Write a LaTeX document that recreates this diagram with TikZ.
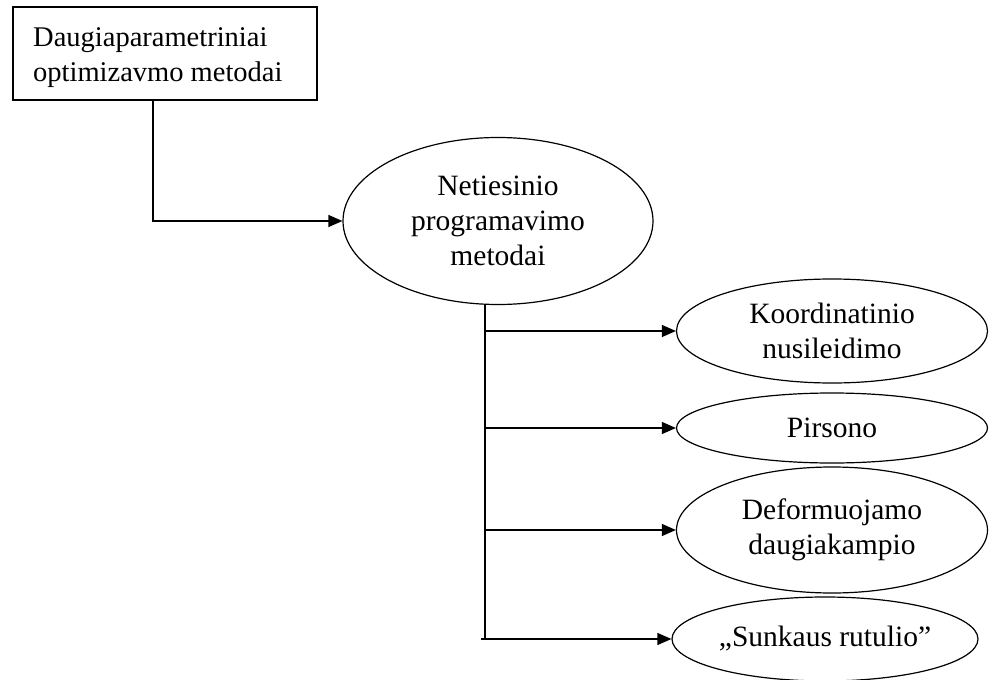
\documentclass[tikz,border=0pt]{standalone}
\usepackage{fontspec}
\setmainfont{Liberation Serif}
\usetikzlibrary{shapes.geometric,arrows.meta,calc}
\tikzset{
  txt/.style={font=\fontsize{29.5}{35}\selectfont, align=center, inner sep=0pt},
  oval/.style={txt, draw, ellipse, line width=1.2pt},
  frame/.style={draw, rectangle, line width=1.2pt, inner sep=0pt},
  caption/.style={font=\fontsize{28.5}{35}\selectfont, align=left, inner sep=0pt},
  link/.style={line width=1.2pt},
  arr/.style={link, -{Triangle[length=14pt,width=12pt]}}
}
\begin{document}
\begin{tikzpicture}[x=1pt,y=-1pt]
  \useasboundingbox (0,0) rectangle (989,680);

  % top box and its caption
  \node[frame, minimum width=304pt, minimum height=93pt] (top) at (165,53.5) {};
  \node[caption, anchor=north west] (toptext) at (33,27.5)
    {Daugiaparametriniai\\optimizavmo metodai};

  % main method group
  \node[oval, minimum width=310pt, minimum height=167pt] (main) at (498,221)
    {Netiesinio\\programavimo\\metodai};

  % individual methods
  \node[oval, minimum width=311pt, minimum height=104pt] (koord) at (832,331) {Koordinatinio\\nusileidimo};
  \node[oval, minimum width=311pt, minimum height=70pt] (pirs) at (832,428) {Pirsono};
  \node[oval, minimum width=311pt, minimum height=126pt] (deform) at (832,530) {Deformuojamo\\daugiakampio};
  \node[oval, minimum width=306pt, minimum height=84pt] (sunk) at (825,639) {„Sunkaus rutulio”};

  % connectors
  \coordinate (drop) at ($(top.south)+(-12,0)$);
  \draw[arr] (drop) |- (main.west);

  \coordinate (trunk) at (485,305);
  \coordinate (trunkend) at (485,639);
  \draw[link] (trunk) -- (trunkend);
  \draw[arr] (koord.west -| trunk) -- (koord.west);
  \draw[arr] (pirs.west -| trunk) -- (pirs.west);
  \draw[arr] (deform.west -| trunk) -- (deform.west);
  \draw[arr] ($(trunkend)+(-4,0)$) -- (sunk.west);
\end{tikzpicture}
\end{document}
